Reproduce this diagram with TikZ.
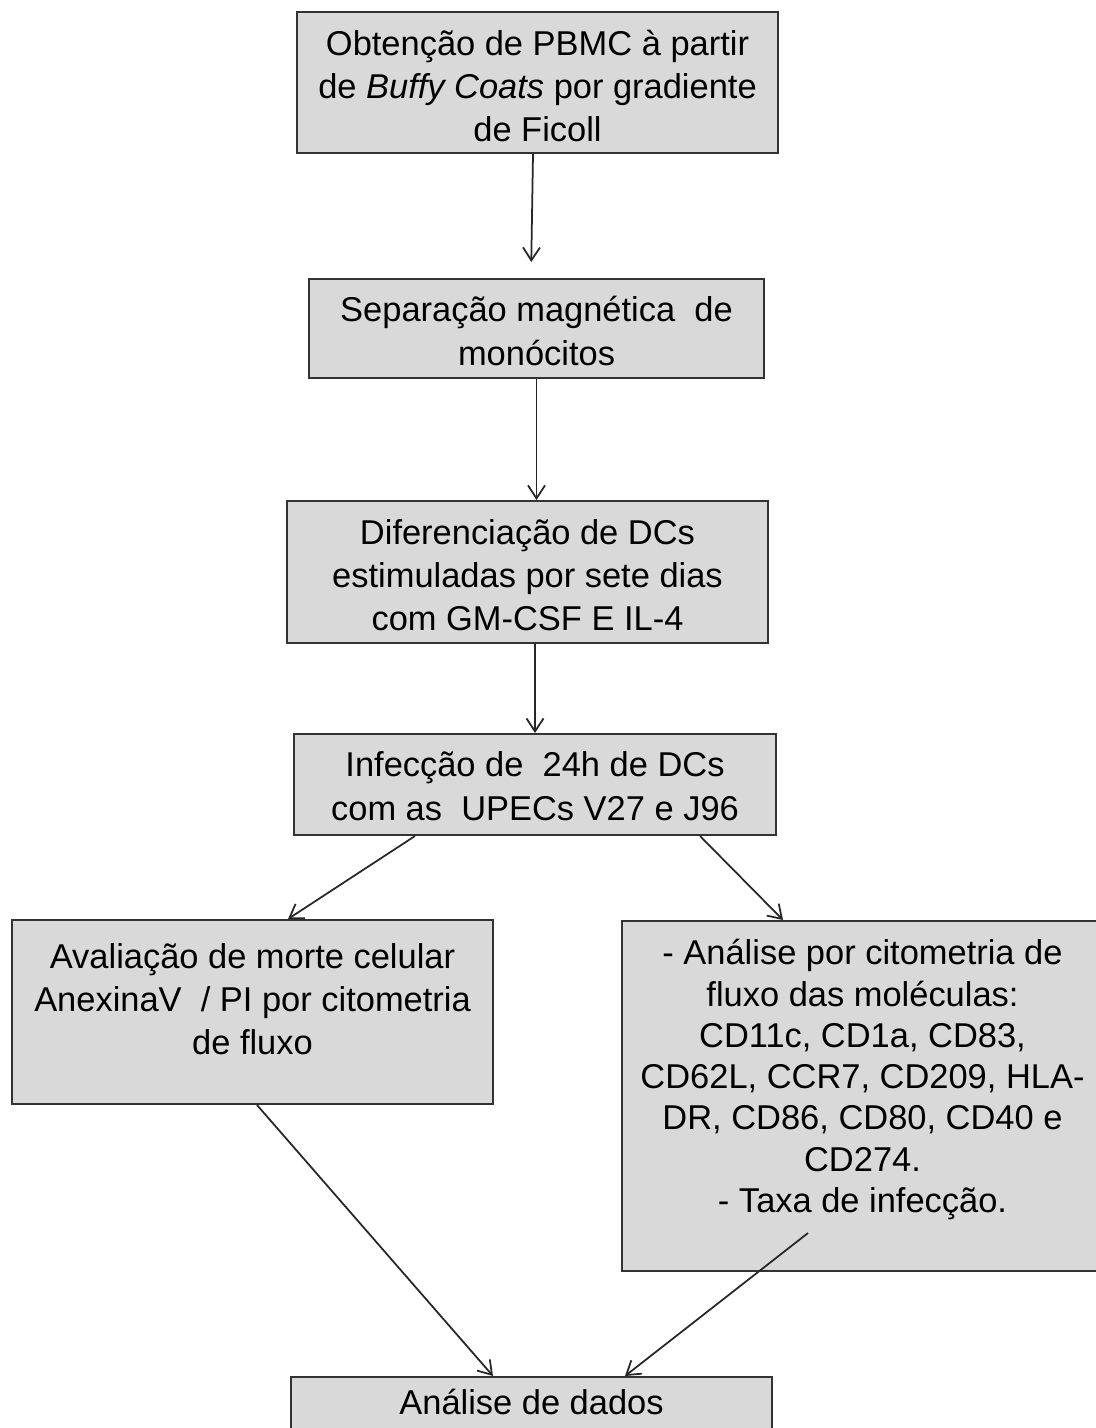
\documentclass[tikz,border=0pt]{standalone}
\usepackage{fontspec}
\setmainfont{Liberation Sans}
\usetikzlibrary{
    arrows.meta                       % puntas Straight Barb
}
\definecolor{cinza_caixa}{RGB}{217,217,217}

\begin{document}
\begin{tikzpicture}[
      font=\fontsize{19.6}{24.5}\selectfont,
      caixa/.style={draw=black!80, line width=0.04cm, fill=cinza_caixa, align=center,
                    inner sep=0pt, minimum width=9.62cm},
      seta/.style={-{Straight Barb[length=2.6mm,width=3.4mm]}, line width=0.035cm, black!85}
    ]
    \useasboundingbox (0,0) rectangle (21.92,-28.56);

    % --- Etapas em coluna ---
    \node[caixa, text height=2.59cm, text depth=0.23cm] (obtencao) at (10.75,-1.65)
        {Obtenção de PBMC à partir\\de \textit{Buffy Coats} por gradiente\\de Ficoll};
    \node[caixa, text height=1.72cm, text depth=0.26cm, minimum width=9.10cm] (separacao) at (10.73,-6.57)
        {Separação magnética~ de\\monócitos};
    \node[caixa, text height=2.59cm, text depth=0.25cm] (diferenciacao) at (10.55,-11.44)
        {Diferenciação de DCs\\estimuladas por sete dias\\com GM-CSF E IL-4};
    \node[caixa, text height=1.72cm, text depth=0.30cm, minimum width=9.64cm] (infeccao) at (10.70,-15.69)
        {Infecção de~ 24h de DCs\\com as~ UPECs V27 e J96};

    % --- Ramos de avaliacao ---
    \node[caixa, text height=2.69cm, text depth=0.99cm] (morte) at (5.05,-20.24)
        {Avaliação de morte celular\\AnexinaV~ / PI por citometria\\de fluxo};
    \node[caixa, font=\fontsize{19.6}{23.5}\selectfont, text height=5.83cm, text depth=1.17cm] (citometria) at (17.25,-21.92)
        {- Análise por citometria de\\fluxo das moléculas:\\CD11c, CD1a, CD83,\\CD62L, CCR7, CD209, HLA-\\DR, CD86, CD80, CD40 e\\CD274.\\- Taxa de infecção.};

    % --- Saida ---
    \node[caixa, text height=0.75cm, text depth=0.75cm] (dados) at (10.63,-28.29) {Análise de dados};

    % --- Fluxo principal ---
    \draw[seta, shorten >=0.32cm] ([xshift=-0.09cm]obtencao.south) -- ([xshift=-0.11cm]separacao.north);
    \draw[seta] (separacao.south) -- (separacao.south |- diferenciacao.north);
    \draw[seta] (infeccao.north |- diferenciacao.south) -- (infeccao.north);

    % --- Bifurcacao ---
    \draw[seta] ([xshift=-2.4cm]infeccao.south) -- ([xshift=0.71cm]morte.north);
    \draw[seta] ([xshift=3.3cm]infeccao.south)  -- ([xshift=-1.59cm]citometria.north);

    % --- Convergencia para analise ---
    \draw[seta] ([xshift=0.09cm]morte.south) -- ([xshift=-0.77cm]dados.north);
    \draw[seta] ([xshift=-1.09cm,yshift=0.78cm]citometria.south) -- ([xshift=1.87cm]dados.north);

\end{tikzpicture}
\end{document}
